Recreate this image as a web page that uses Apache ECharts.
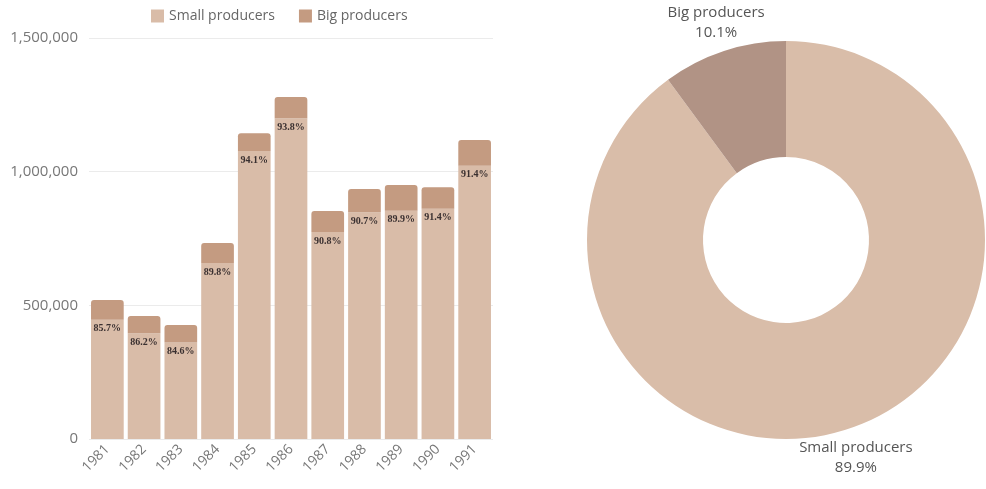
<!DOCTYPE html>
<html>
<head>
<meta charset="UTF-8">
<script src="https://cdn.jsdelivr.net/npm/echarts@6/dist/echarts.min.js"></script>
<style>
body {margin: 0; background: #fff;}
#main {width: 986px; height: 489px;}
</style>
</head>
<body>
<div id="main"></div>
<script>
var years = ['1981', '1982', '1983', '1984', '1985', '1986', '1987', '1988', '1989', '1990', '1991'];
// production per year, small and big producers
var small = [446000, 396000, 361000, 658000, 1077000, 1200000, 774000, 848000, 854000, 861000, 1022000];
var big = [74000, 64000, 65000, 75000, 67000, 79000, 79000, 87000, 96000, 81000, 96000];
var smallShare = ['85.7%', '86.2%', '84.6%', '89.8%', '94.1%', '93.8%', '90.8%', '90.7%', '89.9%', '91.4%', '91.4%'];
// overall share
var pieNames = ['Small producers', 'Big producers'];
var pieValues = [89.9, 10.1];

var cSmall = '#d9bca8';
var cBig = '#c49b81';
var font = '"Open Sans", sans-serif';

var chart = echarts.init(document.getElementById('main'));
chart.setOption({
    animation: false,
    textStyle: {fontFamily: font},
    legend: {
        left: 146, top: 4,
        icon: 'rect', itemWidth: 13, itemHeight: 13, itemGap: 24,
        textStyle: {color: '#666', fontSize: 14, fontFamily: font},
        data: ['Small producers', 'Big producers']
    },
    grid: {left: 89, width: 404, top: 38, bottom: 50},
    xAxis: {
        type: 'category',
        data: years,
        axisLine: {show: false},
        axisTick: {show: false},
        axisLabel: {rotate: 45, color: '#777', fontSize: 14, margin: 8}
    },
    yAxis: {
        type: 'value',
        min: 0, max: 1500000, interval: 500000,
        axisLabel: {
            color: '#777', fontSize: 15, margin: 11,
            formatter: function (v) { return v.toLocaleString('en-US'); }
        },
        splitLine: {lineStyle: {color: '#ebebeb'}}
    },
    series: [{
        name: 'Small producers',
        type: 'bar',
        stack: 'p',
        barCategoryGap: '11%',
        data: small,
        itemStyle: {color: cSmall},
        label: {
            show: true, position: 'insideTop', distance: 4,
            fontFamily: '"Liberation Serif", serif', fontSize: 10, fontWeight: 'bold', color: '#3a3030',
            formatter: function (p) { return smallShare[p.dataIndex]; }
        }
    }, {
        name: 'Big producers',
        type: 'bar',
        stack: 'p',
        data: big,
        itemStyle: {color: cBig, borderRadius: [3, 3, 0, 0]}
    }, {
        type: 'pie',
        center: [786, 240],
        radius: [83, 199],
        avoidLabelOverlap: false,
        data: pieNames.map(function (n, i) {
            return {name: n, value: pieValues[i], itemStyle: {color: i === 0 ? '#d9bda9' : '#b19385'}};
        }),
        label: {
            position: 'outside',
            formatter: '{b}\n{c}%',
            color: '#555', fontSize: 15, lineHeight: 20, fontFamily: font
        },
        labelLine: {show: false, length: 9, length2: 0},
        labelLayout: function (p) {
            return {align: 'center', verticalAlign: p.dataIndex === 0 ? 'top' : 'bottom'};
        }
    }]
});
</script>
</body>
</html>
